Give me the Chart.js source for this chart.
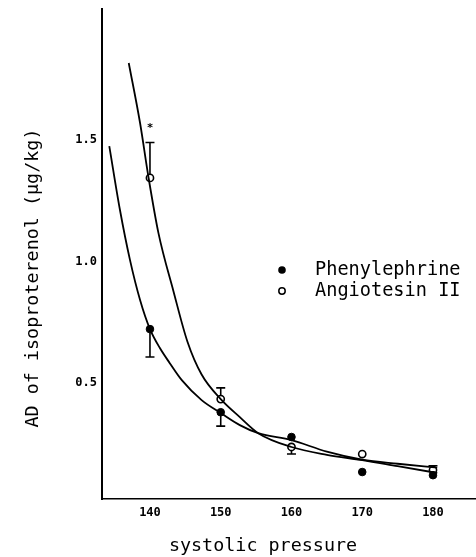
<!DOCTYPE html>
<html>
<head>
<meta charset="utf-8">
<script src="https://cdn.jsdelivr.net/npm/chart.js@4.4.1/dist/chart.umd.min.js"></script>
<style>
html,body{margin:0;padding:0;background:#fff;}
canvas{display:block;}
</style>
</head>
<body>
<canvas id="c" width="476" height="557"></canvas>
<script>
// ---- data ----
const xTicks = [140, 150, 160, 170, 180];
const yTicks = [0.5, 1.0, 1.5];
const pressure = [140, 150, 160, 170, 180];
const phenylephrine = [0.722, 0.38, 0.278, 0.134, 0.121];
const phenErrLow = [0.607, 0.323, null, null, null];
const angiotensin = [1.344, 0.434, 0.237, 0.208, 0.142];
const angErrHigh = [1.49, 0.48, null, null, 0.16];
const angErrLow = [null, null, 0.208, null, null];
const phenCurveX = [134.25, 135.76, 137.18, 138.6, 140, 141.4, 142.8, 144.5, 147.3, 150, 152.7, 155.3, 160, 165, 170, 175, 180.6];
const phenCurveY = [1.475, 1.212, 1.006, 0.842, 0.722, 0.644, 0.582, 0.512, 0.43, 0.377, 0.327, 0.294, 0.265, 0.218, 0.185, 0.168, 0.152];
const angCurveX = [137.0, 138.6, 139.8, 141.2, 143.3, 145.3, 147.3, 150, 152.7, 155.3, 160, 165, 170, 175, 180.6];
const angCurveY = [1.817, 1.57, 1.345, 1.117, 0.88, 0.67, 0.535, 0.434, 0.36, 0.294, 0.237, 0.205, 0.183, 0.158, 0.13];
const seriesNames = ['Phenylephrine', 'Angiotesin II'];
const xTitle = 'systolic pressure';
const yTitle = 'AD of isoproterenol (\u03bcg/kg)';
const significance = [{x: 140, y: 1.55, text: '*'}];

const zip = (xs, ys) => xs.map((x, i) => ({x, y: ys[i]}));

const extras = {
  id: 'extras',
  afterDatasetsDraw(chart) {
    const ctx = chart.ctx;
    const xs = chart.scales.x, ys = chart.scales.y;
    ctx.save();
    ctx.strokeStyle = '#000';
    ctx.lineWidth = 1.6;
    const bar = (xv, from, to) => {
      const px = xs.getPixelForValue(xv);
      const p1 = ys.getPixelForValue(from), p2 = ys.getPixelForValue(to);
      ctx.beginPath();
      ctx.moveTo(px, p1); ctx.lineTo(px, p2);
      ctx.moveTo(px - 4.5, p2); ctx.lineTo(px + 4.5, p2);
      ctx.stroke();
    };
    pressure.forEach((p, i) => {
      if (phenErrLow[i] != null) bar(p, phenylephrine[i] - 0.015, phenErrLow[i]);
      if (angErrHigh[i] != null) bar(p, angiotensin[i] + 0.016, angErrHigh[i]);
      if (angErrLow[i] != null) bar(p, angiotensin[i] - 0.016, angErrLow[i]);
    });
    // significance marks
    ctx.fillStyle = '#000';
    ctx.font = 'bold 11px "DejaVu Sans Mono"';
    ctx.textAlign = 'center';
    ctx.textBaseline = 'middle';
    significance.forEach(s => ctx.fillText(s.text, xs.getPixelForValue(s.x), ys.getPixelForValue(s.y)));
    // legend
    ctx.font = '18.6px "DejaVu Sans Mono"';
    ctx.textAlign = 'left';
    ctx.textBaseline = 'middle';
    ctx.beginPath(); ctx.arc(282, 270, 3.8, 0, Math.PI * 2); ctx.fill();
    ctx.fillText(seriesNames[0], 315, 270);
    ctx.beginPath(); ctx.arc(282, 291, 3.2, 0, Math.PI * 2); ctx.lineWidth = 1.5; ctx.stroke();
    ctx.fillText(seriesNames[1], 315, 291);
    // axis titles
    ctx.font = '18.4px "DejaVu Sans Mono"';
    ctx.textAlign = 'center';
    ctx.fillText(xTitle, 263, 546);
    ctx.translate(33, 278);
    ctx.rotate(-Math.PI / 2);
    ctx.fillText(yTitle, 0, 0);
    ctx.restore();
  }
};

new Chart(document.getElementById('c'), {
  type: 'scatter',
  data: {
    datasets: [
      {label: seriesNames[0] + ' curve', data: zip(phenCurveX, phenCurveY), showLine: true, pointRadius: 0,
       borderColor: '#000', borderWidth: 1.8, cubicInterpolationMode: 'monotone', fill: false},
      {label: seriesNames[1] + ' curve', data: zip(angCurveX, angCurveY), showLine: true, pointRadius: 0,
       borderColor: '#000', borderWidth: 1.8, cubicInterpolationMode: 'monotone', fill: false},
      {label: seriesNames[0], data: zip(pressure, phenylephrine), showLine: false, pointRadius: 3.8,
       pointBackgroundColor: '#000', pointBorderColor: '#000', pointBorderWidth: 1},
      {label: seriesNames[1], data: zip(pressure, angiotensin), showLine: false, pointRadius: 3.6,
       pointBackgroundColor: '#fff', pointBorderColor: '#000', pointBorderWidth: 1.6}
    ]
  },
  options: {
    responsive: false,
    devicePixelRatio: 1,
    animation: false,
    layout: {autoPadding: false, padding: {top: 9, left: 0, right: 0, bottom: 0}},
    plugins: {legend: {display: false}, tooltip: {enabled: false}},
    scales: {
      x: {
        type: 'linear', min: 133.22, max: 186.08,
        afterBuildTicks: s => { s.ticks = xTicks.map(v => ({value: v})); },
        afterFit: s => { s.height = 58; s.paddingLeft = 0; s.paddingRight = 0; },
        grid: {display: false, drawTicks: false, tickLength: 0},
        border: {display: true, color: '#000', width: 1.6},
        ticks: {color: '#000', padding: 7, maxRotation: 0, autoSkip: false,
                font: {family: 'DejaVu Sans Mono', size: 12, weight: 'bold'},
                callback: v => String(v)}
      },
      y: {
        type: 'linear', min: 0.023, max: 2.039,
        afterBuildTicks: s => { s.ticks = yTicks.map(v => ({value: v})); },
        afterFit: s => { s.width = 102; s.paddingTop = 0; s.paddingBottom = 0; },
        grid: {display: false, drawTicks: false, tickLength: 0},
        border: {display: true, color: '#000', width: 2},
        ticks: {color: '#000', padding: 5, autoSkip: false,
                font: {family: 'DejaVu Sans Mono', size: 12, weight: 'bold'},
                callback: v => Number(v).toFixed(1)}
      }
    }
  },
  plugins: [extras]
});
</script>
</body>
</html>
